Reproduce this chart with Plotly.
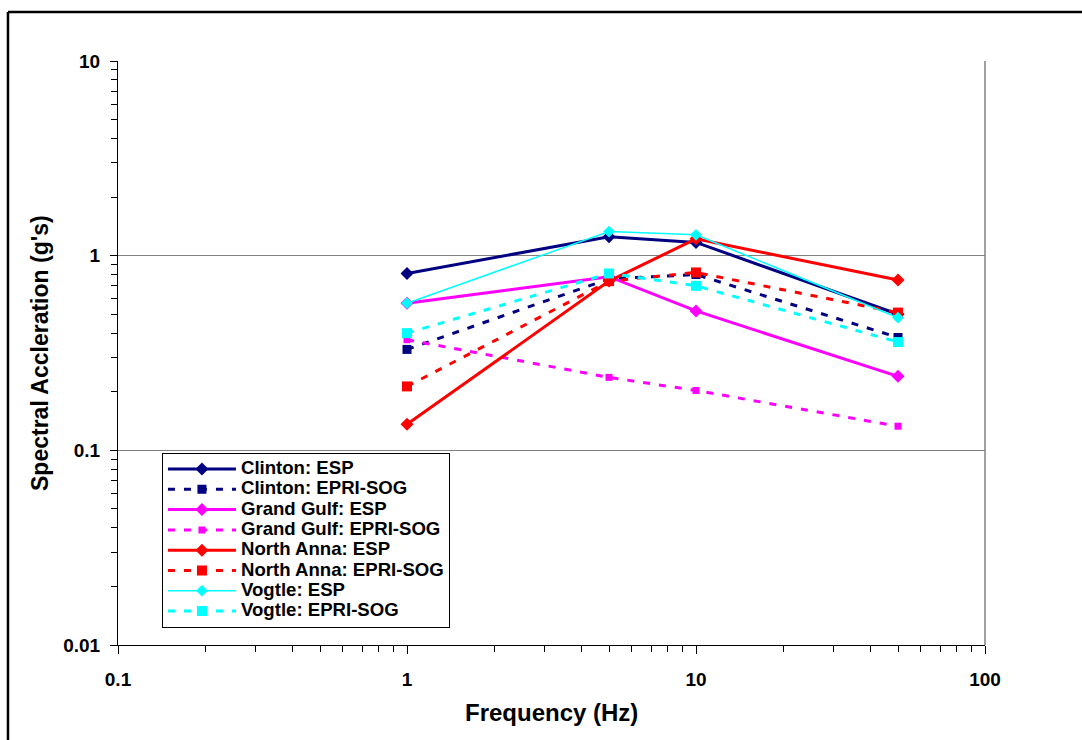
import plotly.graph_objects as go

freq = [1, 5, 10, 50]
clinton_esp = [0.81, 1.25, 1.17, 0.50]
clinton_sog = [0.33, 0.76, 0.80, 0.38]
gg_esp = [0.57, 0.78, 0.52, 0.24]
gg_sog = [0.37, 0.237, 0.203, 0.133]
na_esp = [0.136, 0.74, 1.22, 0.75]
na_sog = [0.213, 0.74, 0.82, 0.51]
vog_esp = [0.57, 1.33, 1.28, 0.48]
vog_sog = [0.40, 0.81, 0.70, 0.36]

x_tickvals = [0.1, 1, 10, 100]
x_ticktext = ["0.1", "1", "10", "100"]
y_tickvals = [0.01, 0.1, 1, 10]
y_ticktext = ["0.01", "0.1", "1", "10"]
x_minor = [m * d for d in (0.1, 1, 10) for m in range(2, 10)]
y_minor = [m * d for d in (0.01, 0.1, 1) for m in range(2, 10)]

NAVY, MAG, RED, CYAN = "#000080", "#FF00FF", "#FF0000", "#00FFFF"
DASH = "7px,9px"

series = [
    ("Clinton: ESP", clinton_esp, NAVY, "solid", 3, "diamond", 10),
    ("Clinton: EPRI-SOG", clinton_sog, NAVY, DASH, 3, "square", 9),
    ("Grand Gulf: ESP", gg_esp, MAG, "solid", 3, "diamond", 10),
    ("Grand Gulf: EPRI-SOG", gg_sog, MAG, DASH, 3, "square", 7),
    ("North Anna: ESP", na_esp, RED, "solid", 3, "diamond", 10),
    ("North Anna: EPRI-SOG", na_sog, RED, DASH, 3, "square", 10),
    ("Vogtle: ESP", vog_esp, CYAN, "solid", 1.5, "diamond", 9),
    ("Vogtle: EPRI-SOG", vog_sog, CYAN, DASH, 3, "square", 10),
]

fig = go.Figure()
for name, vals, col, dash, w, sym, sz in series:
    fig.add_trace(go.Scatter(
        x=freq, y=vals, mode="lines+markers",
        name='<span style="font-size:18.6px">' + name + '</span>',
        line=dict(color=col, width=w, dash=dash),
        marker=dict(symbol=sym, size=sz, color=col, line=dict(width=0)),
    ))

FONT = "Arial, Liberation Sans, sans-serif"

fig.update_layout(
    width=1082, height=740,
    margin=dict(l=118, r=97, t=61, b=95),
    paper_bgcolor="white", plot_bgcolor="white",
    font=dict(family=FONT, color="black"),
    showlegend=True,
    legend=dict(
        x=0.0507, y=0.329, xanchor="left", yanchor="top",
        bgcolor="white", bordercolor="black", borderwidth=1,
        font=dict(family=FONT, size=13.3, color="black", weight="bold"),
        tracegroupgap=0, itemwidth=68,
    ),
    xaxis=dict(
        type="log", range=[-1, 2],
        tickvals=x_tickvals, ticktext=x_ticktext,
        tickfont=dict(family=FONT, size=19, weight="bold"),
        ticks="outside", ticklen=8, tickcolor="black", tickwidth=1,
        ticklabelstandoff=9,
        showline=True, linecolor="black", linewidth=1,
        showgrid=False, zeroline=False,
        minor=dict(tickmode="array", tickvals=x_minor, ticks="outside", ticklen=6,
                   tickcolor="black", tickwidth=1, showgrid=False),
    ),
    yaxis=dict(
        type="log", range=[-2, 1],
        tickvals=y_tickvals, ticktext=y_ticktext,
        tickfont=dict(family=FONT, size=19, weight="bold"),
        ticks="outside", ticklen=7, tickcolor="black", tickwidth=1,
        ticklabelstandoff=6,
        showline=True, linecolor="black", linewidth=1,
        showgrid=True, gridcolor="#808080", gridwidth=1,
        zeroline=False,
        minor=dict(tickmode="array", tickvals=y_minor, ticks="outside", ticklen=6,
                   tickcolor="black", tickwidth=1, showgrid=False),
    ),
    annotations=[
        dict(text="Spectral Accleration (g's)", xref="paper", yref="paper",
             x=-0.09, y=0.5, xanchor="center", yanchor="middle", textangle=-90,
             showarrow=False, font=dict(family=FONT, size=23, weight="bold")),
        dict(text="Frequency (Hz)", xref="paper", yref="paper",
             x=0.5, y=-0.1164, xanchor="center", yanchor="middle",
             showarrow=False, font=dict(family=FONT, size=24, weight="bold")),
    ],
    shapes=[
        dict(type="line", xref="paper", yref="paper", x0=1, x1=1, y0=0, y1=1,
             line=dict(color="#808080", width=1.5)),
        dict(type="line", xref="paper", yref="paper", x0=-0.1269, x1=1.2, y0=1.0839, y1=1.0839,
             line=dict(color="black", width=2.5)),
        dict(type="line", xref="paper", yref="paper", x0=-0.1269, x1=-0.1269, y0=-0.3, y1=1.0839,
             line=dict(color="black", width=2.5)),
    ],
)

fig.write_html("out.html")
